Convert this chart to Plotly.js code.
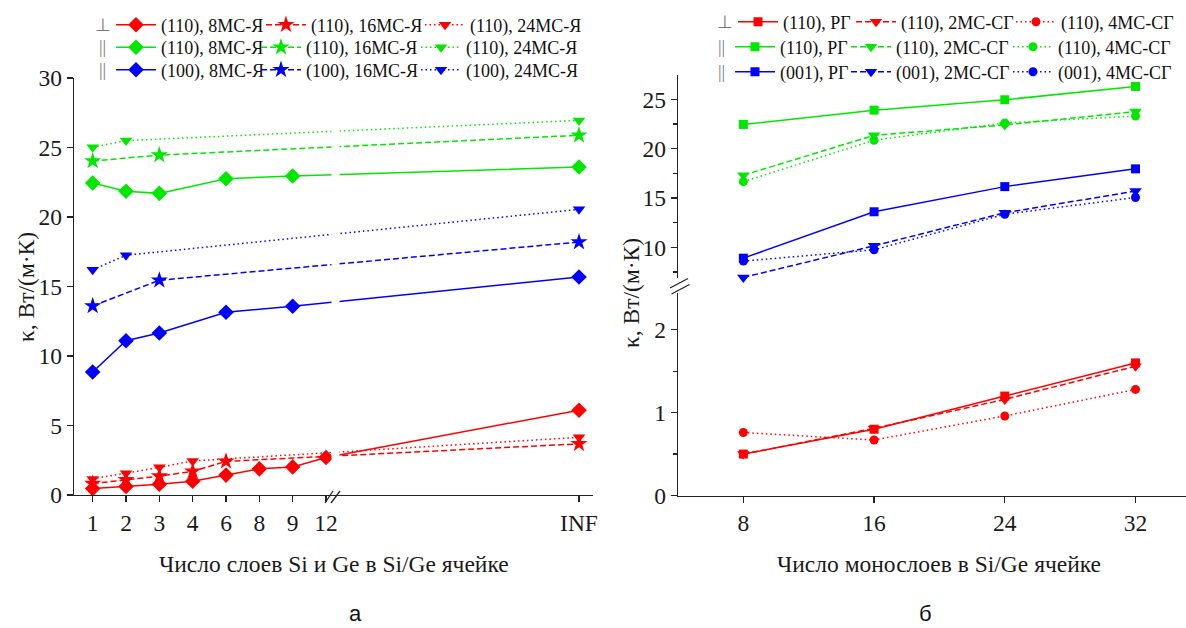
<!DOCTYPE html>
<html><head><meta charset="utf-8">
<script src="https://cdn.plot.ly/plotly-3.0.1.min.js"></script>
<style>html,body{margin:0;padding:0;background:#fff}#chart{width:1186px;height:628px}</style>
</head><body><div id="chart"></div>
<script>
// ---------- data ----------
const catsLeft = ['1', '2', '3', '4', '6', '8', '9', '12', 'INF'];
// ⊥ (110)
const perp110_8MS = [0.46, 0.61, 0.78, 0.99, 1.43, 1.88, 2.02, 2.7, 6.1];
const perp110_16MS = [0.82, 1.1, 1.36, 1.7, 2.42, null, null, null, 3.68];
const perp110_24MS = [1.16, 1.56, 1.99, 2.45, null, null, null, null, 4.15];
// || (110)
const par110_8MS = [22.45, 21.85, 21.7, null, 22.75, null, 22.95, null, 23.6];
const par110_16MS = [24.03, null, 24.45, null, null, null, null, null, 25.88];
const par110_24MS = [25.02, 25.5, null, null, null, null, null, null, 26.95];
// || (100)
const par100_8MS = [8.85, 11.1, 11.65, null, 13.15, null, 13.58, null, 15.68];
const par100_16MS = [13.6, null, 15.45, null, null, null, null, null, 18.2];
const par100_24MS = [16.2, 17.25, null, null, null, null, null, null, 20.55];

const monolayers = [8, 16, 24, 32];
const perp110_RG = [0.5, 0.8, 1.2, 1.6];
const perp110_2MS = [0.5, 0.81, 1.16, 1.56];
const perp110_4MS = [0.76, 0.67, 0.96, 1.28];
const par110_RG = [22.45, 23.9, 24.95, 26.3];
const par110_2MS = [17.3, 21.35, 22.4, 23.75];
const par110_4MS = [16.65, 20.85, 22.6, 23.3];
const par001_RG = [8.9, 13.6, 16.15, 17.95];
const par001_2MS = [6.95, 10.15, 13.5, 15.7];
const par001_4MS = [8.6, 9.75, 13.35, 15.05];

const namesLeft = [
  ['(110), 8МС-Я', '(110), 16МС-Я', '(110), 24МС-Я'],
  ['(110), 8МС-Я', '(110), 16МС-Я', '(110), 24МС-Я'],
  ['(100), 8МС-Я', '(100), 16МС-Я', '(100), 24МС-Я']
];
const namesRight = [
  ['(110), РГ', '(110), 2МС-СГ', '(110), 4МС-СГ'],
  ['(110), РГ', '(110), 2МС-СГ', '(110), 4МС-СГ'],
  ['(001), РГ', '(001), 2МС-СГ', '(001), 4МС-СГ']
];
const rowPrefix = ['⊥', '||', '||'];

// ---------- style / layout helpers ----------
const W = 1186, H = 628;
const px = v => v / W;
const py = v => 1 - v / H;
const SERIF = "'Liberation Serif', 'Times New Roman', serif";
const SANS = "'Liberation Sans', Arial, sans-serif";
const COLORS = ['#ff0000', '#00e800', '#0000ff'];
const DASHES = ['solid', '6px,3px', '1.5px,3px'];
const SYM_L = [['diamond', 12], ['star', 13], ['triangle-down', 11]];
const SYM_R = [['square', 9], ['triangle-down', 11], ['circle', 9]];

// INF placed further along the left axis
const xLeft = catsLeft.map((c, i) => c === 'INF' ? 14.59 : i);

function legId(n) { return n === 1 ? 'legend' : 'legend' + n; }

function trace(x, y, name, r, c, sym, xa, ya, n) {
  return {
    type: 'scatter', mode: 'lines+markers', x: x, y: y, name: name,
    connectgaps: true, cliponaxis: false,
    line: {color: COLORS[r], width: 1.5, dash: DASHES[c]},
    marker: {symbol: sym[0], size: sym[1], color: COLORS[r]},
    xaxis: xa, yaxis: ya, legend: legId(n), showlegend: true
  };
}

const leftSeries = [
  [perp110_8MS, perp110_16MS, perp110_24MS],
  [par110_8MS, par110_16MS, par110_24MS],
  [par100_8MS, par100_16MS, par100_24MS]
];
const rightSeries = [
  [perp110_RG, perp110_2MS, perp110_4MS],
  [par110_RG, par110_2MS, par110_4MS],
  [par001_RG, par001_2MS, par001_4MS]
];

const data = [];
const layout = {
  width: W, height: H, margin: {l: 0, r: 0, t: 0, b: 0},
  paper_bgcolor: '#fff', plot_bgcolor: 'rgba(0,0,0,0)',
  font: {family: SERIF, size: 22, color: '#1a1a1a'},
  showlegend: true, annotations: [], shapes: []
};

// legend geometry (text start x per row/col, row y)
const legTextL = [[158, 308, 467], [158, 303, 463], [158, 303, 463]];
const legRowYL = [25, 47.5, 70];
const legTextR = [[780, 898, 1058], [777, 893, 1055], [777, 893, 1055]];
const legRowYR = [22, 47, 72];
const prefixXL = [103, 102, 102], prefixXR = [725, 721, 721];

function addLegend(n, xText, yRow) {
  layout[legId(n)] = {
    x: px(xText - 47), xanchor: 'left', y: py(yRow), yanchor: 'middle',
    orientation: 'v', bgcolor: 'rgba(0,0,0,0)', borderwidth: 0, itemwidth: 40,
    font: {family: SERIF, size: 18, color: '#111'}, tracegroupgap: 0,
    itemclick: false, itemdoubleclick: false
  };
}

for (let r = 0; r < 3; r++) {
  for (let c = 0; c < 3; c++) {
    const nL = r * 3 + c + 1;
    data.push(trace(xLeft, leftSeries[r][c], namesLeft[r][c], r, c, SYM_L[c], 'x', 'y', nL));
    addLegend(nL, legTextL[r][c], legRowYL[r]);
    const nR = 9 + r * 3 + c + 1;
    data.push(trace(monolayers, rightSeries[r][c], namesRight[r][c], r, c, SYM_R[c], 'x2', r === 0 ? 'y2' : 'y3', nR));
    addLegend(nR, legTextR[r][c], legRowYR[r]);
  }
}

const axBase = {
  showline: true, linecolor: '#222', linewidth: 1.3, showgrid: false, zeroline: false,
  ticks: 'outside', ticklen: 6, tickwidth: 1.3, tickcolor: '#222',
  tickfont: {family: SERIF, size: 23.5, color: '#1a1a1a'}
};

layout.xaxis = Object.assign({}, axBase, {
  domain: [px(74), px(593)], range: [-0.56, 15.01], anchor: 'y',
  tickmode: 'array', tickvals: xLeft, ticktext: catsLeft
});
layout.yaxis = Object.assign({}, axBase, {
  domain: [py(495), py(78)], range: [0, 30], anchor: 'x', dtick: 5, tick0: 0
});
layout.xaxis2 = Object.assign({}, axBase, {
  domain: [px(678), 1], range: [4, 35.09], anchor: 'y2',
  tickmode: 'array', tickvals: monolayers
});
layout.yaxis2 = Object.assign({}, axBase, {
  domain: [py(495.5), py(293)], range: [0, 2.444], anchor: 'x2', dtick: 1, tick0: 0,
  minor: {ticks: 'outside', dtick: 0.5, ticklen: 4, tickwidth: 1.2, tickcolor: '#222'}
});
layout.yaxis3 = Object.assign({}, axBase, {
  domain: [py(278), py(75)], range: [6.89, 27.46], anchor: 'x2', dtick: 5, tick0: 0,
  minor: {ticks: 'outside', dtick: 2.5, ticklen: 4, tickwidth: 1.2, tickcolor: '#222'}
});

// axis break: gap in the lines and slashes
layout.shapes.push({type: 'rect', xref: 'paper', yref: 'paper', x0: px(331.5), x1: px(339.5), y0: py(490), y1: py(80),
  fillcolor: '#fff', line: {width: 0}, layer: 'above'});
const brk = [[325, 503, 333, 491], [331, 503, 340, 491], [670, 288, 688, 278.5], [671.5, 294, 689.5, 284.5]];
brk.forEach(b => layout.shapes.push({type: 'line', xref: 'paper', yref: 'paper',
  x0: px(b[0]), y0: py(b[1]), x1: px(b[2]), y1: py(b[3]), line: {color: '#222', width: 1.3}, layer: 'above'}));

// titles, row markers and panel labels
const ann = (text, x, y, font, extra) => layout.annotations.push(Object.assign({
  text: text, x: px(x), y: py(y), xref: 'paper', yref: 'paper', showarrow: false,
  xanchor: 'center', yanchor: 'middle', font: font}, extra || {}));
const titleFont = {family: SERIF, size: 23.5, color: '#1a1a1a'};
const prefFont = {family: SERIF, size: 18, color: '#777'};
for (let r = 0; r < 3; r++) {
  ann(rowPrefix[r], prefixXL[r], legRowYL[r], prefFont);
  ann(rowPrefix[r], prefixXR[r], legRowYR[r], prefFont);
}
ann('Число слоев Si и Ge в Si/Ge ячейке', 334, 564, titleFont);
ann('Число монослоев в Si/Ge ячейке', 939, 564, titleFont);
ann('κ, Вт/(м·К)', 26, 287, {family: SERIF, size: 23.5, color: '#1a1a1a'}, {textangle: -90});
ann('κ, Вт/(м·К)', 631, 293, {family: SERIF, size: 23.5, color: '#1a1a1a'}, {textangle: -90});
ann('а', 355, 613, {family: SANS, size: 22, color: '#111'});
ann('б', 925, 613, {family: SANS, size: 22, color: '#111'});

Plotly.newPlot('chart', data, layout, {staticPlot: true, displayModeBar: false});
</script></body></html>
